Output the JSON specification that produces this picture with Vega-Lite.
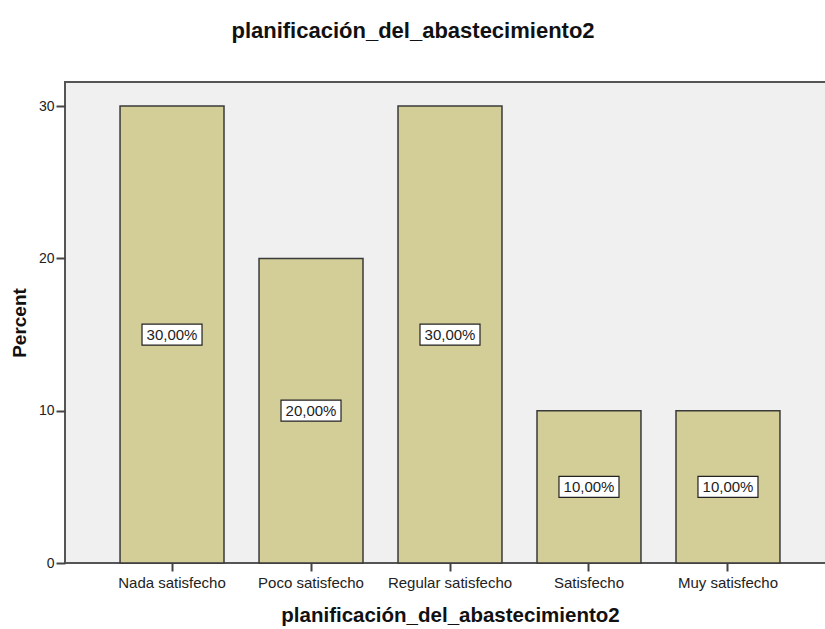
{
  "$schema": "https://vega.github.io/schema/vega-lite/v6.json",
  "autosize": "none",
  "width": 770,
  "height": 481,
  "padding": {"left": 65, "top": 82, "right": 0, "bottom": 66},
  "background": "white",
  "title": {
    "text": "planificación_del_abastecimiento2",
    "font": "Liberation Sans",
    "fontSize": 22,
    "fontWeight": "bold",
    "color": "#111",
    "anchor": "middle",
    "baseline": "alphabetic",
    "dx": -37,
    "offset": 22
  },
  "config": {
    "view": {"fill": "#F0F0F0", "stroke": "#555", "strokeWidth": 2},
    "axis": {"labelFont": "Liberation Sans", "titleFont": "Liberation Sans", "labelColor": "#222", "titleColor": "#111", "grid": false, "domain": false, "tickColor": "#444", "tickWidth": 2}
  },
  "data": {
    "values": [
      {"cat": "Nada satisfecho", "pct": 30, "label": "30,00%"},
      {"cat": "Poco satisfecho", "pct": 20, "label": "20,00%"},
      {"cat": "Regular satisfecho", "pct": 30, "label": "30,00%"},
      {"cat": "Satisfecho", "pct": 10, "label": "10,00%"},
      {"cat": "Muy satisfecho", "pct": 10, "label": "10,00%"}
    ]
  },
  "encoding": {
    "x": {
      "field": "cat", "type": "nominal", "sort": null,
      "scale": {"paddingInner": 0.252, "paddingOuter": 0.396},
      "axis": {"title": "planificación_del_abastecimiento2", "titleFontSize": 20.5, "titleFontWeight": "bold", "titlePadding": 15, "labelFontSize": 15, "labelAngle": 0, "tickSize": 8, "labelPadding": 4}
    }
  },
  "layer": [
    {
      "mark": {"type": "bar", "fill": "#D3CE97", "stroke": "#3a3a3a", "strokeWidth": 1.5},
      "encoding": {
        "y": {
          "field": "pct", "type": "quantitative",
          "scale": {"domain": [0, 31.58], "nice": false},
          "axis": {"title": "Percent", "titleFontSize": 19, "titleFontWeight": "bold", "titlePadding": 9, "labelFontSize": 14, "values": [0, 10, 20, 30], "tickSize": 9, "labelPadding": 2}
        }
      }
    },
    {
      "transform": [{"calculate": "datum.pct / 2", "as": "mid"}],
      "mark": {"type": "point", "shape": "M-1,-0.35L1,-0.35L1,0.35L-1,0.35Z", "size": 3600, "filled": true, "fill": "white", "stroke": "#222", "strokeWidth": 1.2, "opacity": 1},
      "encoding": {"y": {"field": "mid", "type": "quantitative"}}
    },
    {
      "transform": [{"calculate": "datum.pct / 2", "as": "mid"}],
      "mark": {"type": "text", "font": "Liberation Sans", "fontSize": 15, "color": "#222"},
      "encoding": {"y": {"field": "mid", "type": "quantitative"}, "text": {"field": "label"}}
    }
  ]
}
